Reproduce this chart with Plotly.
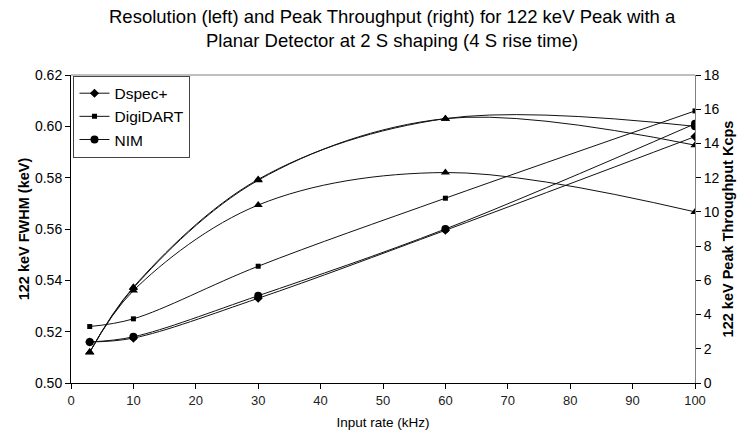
import plotly.graph_objects as go

x = [3, 10, 30, 60, 100]

# Resolution (keV, left axis)
dspec_res = [0.516, 0.5175, 0.533, 0.5595, 0.596]
digidart_res = [0.522, 0.525, 0.5455, 0.572, 0.606]
nim_res = [0.516, 0.518, 0.534, 0.560, 0.601]

# Throughput (kcps, right axis)
thr_a = [1.8, 5.55, 11.85, 15.45, 13.9]
thr_b = [1.8, 5.4, 10.4, 12.3, 10.0]
thr_c = [1.8, 5.6, 11.9, 15.45, 15.0]

title_lines = ["Resolution (left) and Peak Throughput (right) for 122 keV Peak with a",
               "Planar Detector at 2 S shaping (4 S rise time)"]

FONT = "Liberation Sans, Arial, sans-serif"
LC = "#111111"

fig = go.Figure()

def add(y, name, symbol, size, axis="y", show=True):
    fig.add_trace(go.Scatter(
        x=x, y=y, name=name, yaxis=axis, showlegend=show,
        mode="lines+markers",
        line=dict(color=LC, width=1, shape="spline", smoothing=1.0),
        marker=dict(symbol=symbol, size=size, color="black"),
    ))

add(dspec_res, "Dspec+", "diamond", 7)
add(digidart_res, "DigiDART", "square", 5)
add(nim_res, "NIM", "circle", 8)
add(thr_a, "Throughput A", "triangle-up", 8, "y2", False)
add(thr_b, "Throughput B", "triangle-up", 8, "y2", False)
add(thr_c, "Throughput C", ["triangle-up"] * 4 + ["circle"], 8, "y2", False)

PLOT_H = 435 - 75 - 52
annotations = []
for i, t in enumerate(title_lines):
    annotations.append(dict(text=t, xref="paper", yref="paper", x=0.515, xanchor="center",
                            y=1 + (75 - (16 + 25 * i)) / PLOT_H, yanchor="middle",
                            showarrow=False, font=dict(size=18.5, family=FONT)))

fig.update_layout(
    width=744, height=435,
    margin=dict(l=71, r=49, t=75, b=52),
    paper_bgcolor="white", plot_bgcolor="white",
    font=dict(family=FONT, color="black", size=13),
    annotations=annotations,
    xaxis=dict(range=[0, 100], tickvals=list(range(0, 101, 10)), automargin=False,
               showgrid=False, zeroline=False, showline=True, linecolor="black",
               ticks="outside", ticklen=5, tickcolor="black",
               tickfont=dict(size=13, color="#222222"),
               title=dict(text="Input rate (kHz)", font=dict(size=13.5), standoff=10),
               mirror=False),
    yaxis=dict(range=[0.50, 0.62], tickvals=[0.50, 0.52, 0.54, 0.56, 0.58, 0.60, 0.62],
               tickformat=".2f", automargin=False,
               showgrid=False, zeroline=False, showline=True, linecolor="black",
               ticks="outside", ticklen=5, tickcolor="black",
               tickfont=dict(size=14),
               title=dict(text="<b>122 keV FWHM (keV)</b>", font=dict(size=14.5), standoff=1)),
    yaxis2=dict(range=[0, 18], tickvals=list(range(0, 19, 2)), overlaying="y", side="right",
                automargin=False,
                showgrid=False, zeroline=False, showline=True, linecolor="#808080",
                ticks="outside", ticklen=5, tickcolor="black",
                tickfont=dict(size=14),
                title=dict(text="<b>122 keV Peak Throughput Kcps</b>", font=dict(size=14.5), standoff=4)),
    legend=dict(x=0.004, y=0.998, xanchor="left", yanchor="top",
                bordercolor="#444444", borderwidth=1, bgcolor="white",
                font=dict(size=15.5), tracegroupgap=0, itemwidth=30),
    shapes=[dict(type="line", xref="paper", yref="paper", x0=0, x1=1, y0=1, y1=1,
                 line=dict(color="#808080", width=1))],
)

fig.write_html("out.html")
